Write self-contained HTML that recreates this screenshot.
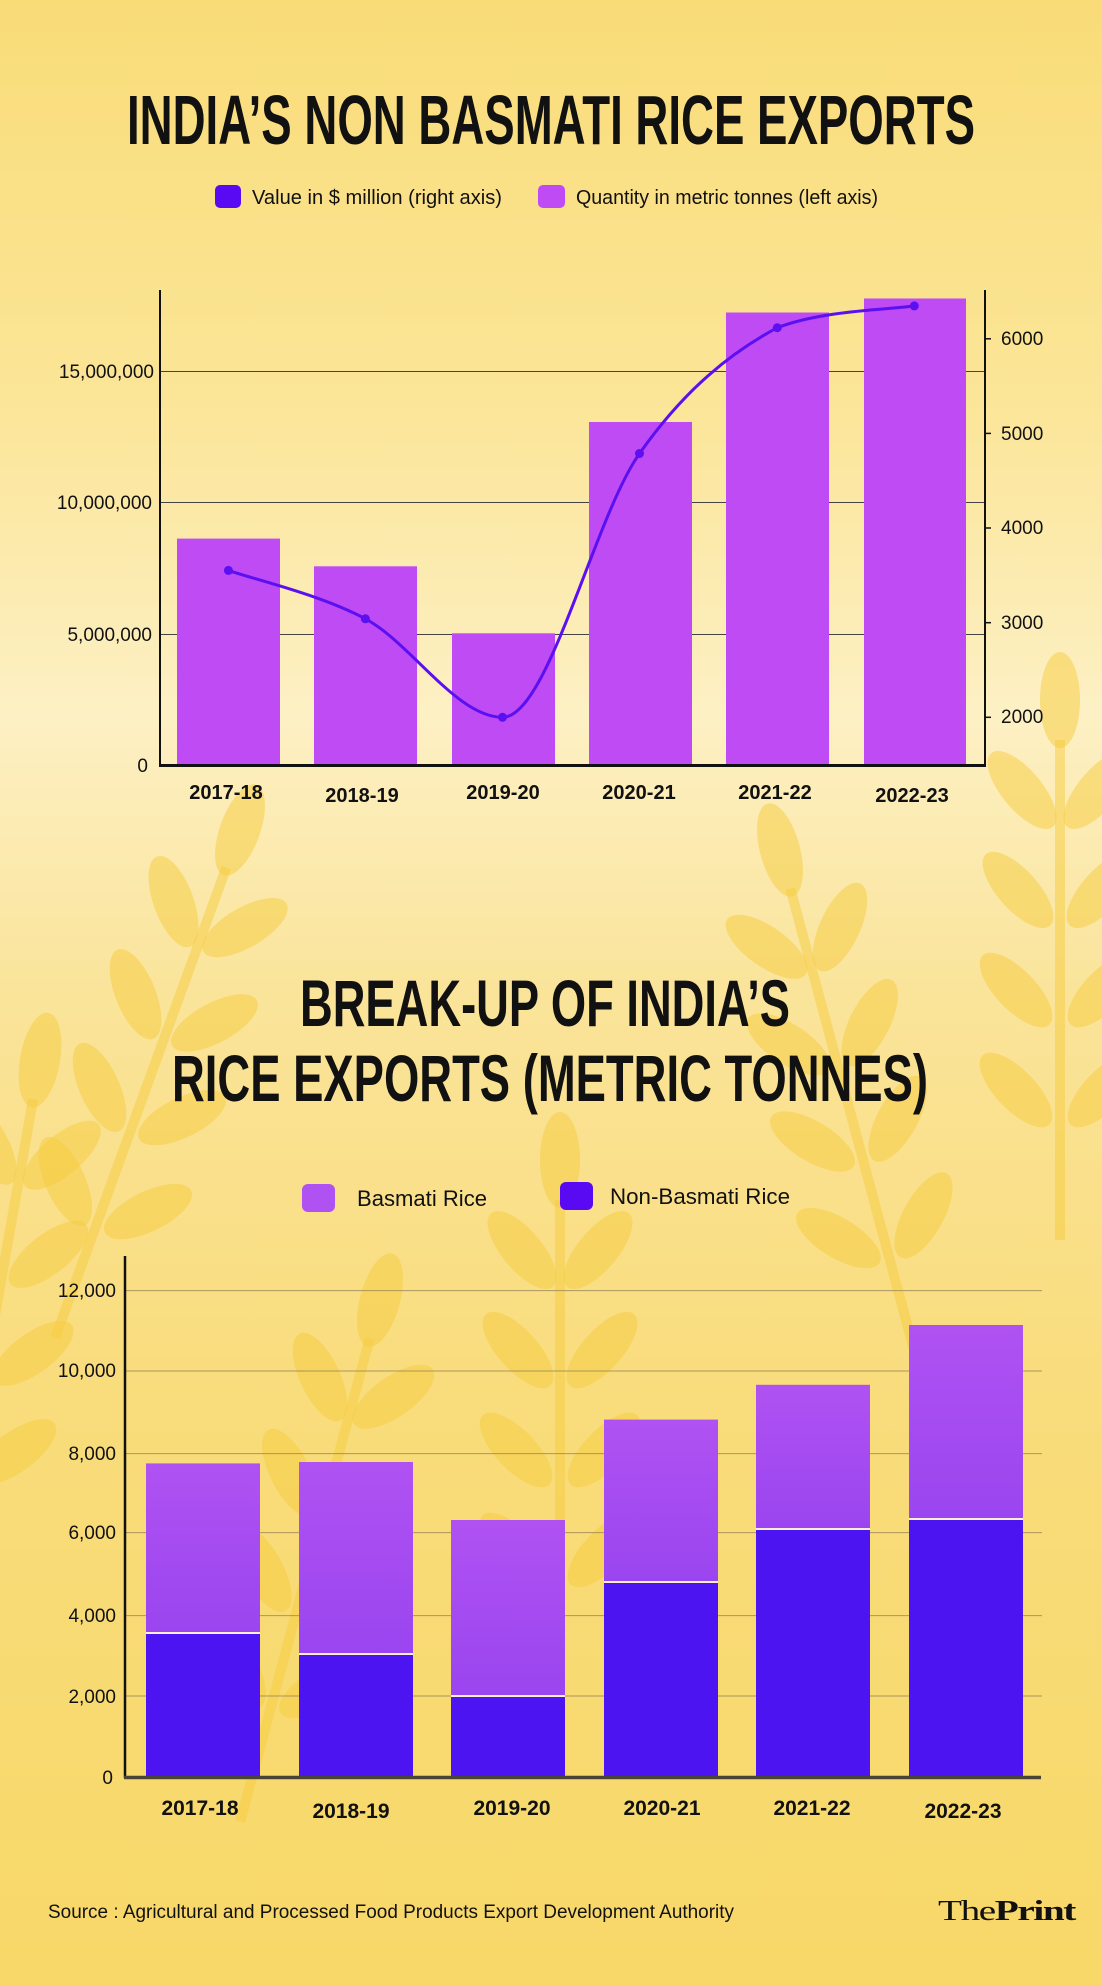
<!DOCTYPE html>
<html><head><meta charset="utf-8"><style>
html,body{margin:0;padding:0;}
body{width:1102px;height:1985px;overflow:hidden;}
svg{display:block;}
text{font-family:"Liberation Sans Narrow","Liberation Sans",sans-serif;fill:#111;}
</style></head><body>
<svg width="1102" height="1985" viewBox="0 0 1102 1985" xmlns="http://www.w3.org/2000/svg" overflow="hidden">
<defs>
<linearGradient id="bg" x1="0" y1="0" x2="0" y2="1">
<stop offset="0" stop-color="#f9dc78"/>
<stop offset="0.2" stop-color="#fbe597"/>
<stop offset="0.36" stop-color="#fdf0c4"/>
<stop offset="0.5" stop-color="#fae49a"/>
<stop offset="0.7" stop-color="#f9dc7c"/>
<stop offset="1" stop-color="#f8d868"/>
</linearGradient>
<linearGradient id="bas" x1="0" y1="0" x2="0" y2="1">
<stop offset="0" stop-color="#b052f2"/><stop offset="1" stop-color="#9a45f0"/>
</linearGradient>
<g id="grain"><ellipse cx="0" cy="0" rx="20" ry="48" fill="#f6cc3e" opacity="0.5"/></g>
<g id="head">
<use href="#grain"/>
<use href="#grain" transform="translate(-38,90) rotate(-40)"/><use href="#grain" transform="translate(38,90) rotate(40)"/>
<use href="#grain" transform="translate(-42,190) rotate(-42)"/><use href="#grain" transform="translate(42,190) rotate(42)"/>
<use href="#grain" transform="translate(-44,290) rotate(-44)"/><use href="#grain" transform="translate(44,290) rotate(44)"/>
<use href="#grain" transform="translate(-44,390) rotate(-44)"/><use href="#grain" transform="translate(44,390) rotate(44)"/>
<rect x="-5" y="40" width="10" height="500" fill="#f6cc3e" opacity="0.5"/>
</g>
</defs>
<rect width="1102" height="1985" fill="url(#bg)"/>
<use href="#head" transform="translate(1060,700)"/>
<use href="#head" transform="translate(240,830) rotate(20)"/>
<use href="#head" transform="translate(780,850) rotate(-15)"/>
<use href="#head" transform="translate(40,1060) rotate(10)"/>
<use href="#head" transform="translate(560,1160)"/>
<use href="#head" transform="translate(380,1300) rotate(15)"/>

<text x="551" y="144" text-anchor="middle" font-size="70" font-weight="bold" textLength="848" lengthAdjust="spacingAndGlyphs">INDIA’S NON BASMATI RICE EXPORTS</text>
<rect x="215" y="185" width="26" height="23" rx="5" fill="#5a0af2"/>
<text x="252" y="204" font-size="20" textLength="250" lengthAdjust="spacingAndGlyphs">Value in $ million (right axis)</text>
<rect x="538" y="185" width="27" height="23" rx="5" fill="#bf4bf5"/>
<text x="576" y="204" font-size="20" textLength="302" lengthAdjust="spacingAndGlyphs">Quantity in metric tonnes (left axis)</text>

<g stroke="#444" stroke-width="1">
<line x1="160" y1="371.5" x2="985" y2="371.5"/>
<line x1="160" y1="502.5" x2="985" y2="502.5"/>
<line x1="160" y1="634.5" x2="985" y2="634.5"/>
</g>
<g fill="#bf4bf5">
<rect x="177" y="538.6" width="103" height="226.4"/>
<rect x="314" y="566.3" width="103" height="198.7"/>
<rect x="452" y="633.3" width="103" height="131.7"/>
<rect x="589" y="422" width="103" height="343"/>
<rect x="726" y="312.5" width="103" height="452.5"/>
<rect x="864" y="298.5" width="102" height="466.5"/>
</g>
<line x1="160" y1="290" x2="160" y2="767" stroke="#111" stroke-width="2"/>
<line x1="985" y1="290" x2="985" y2="767" stroke="#111" stroke-width="2"/>
<line x1="159" y1="765.5" x2="986" y2="765.5" stroke="#111" stroke-width="3"/>
<g stroke="#111" stroke-width="1.5">
<line x1="985" y1="338.8" x2="991" y2="338.8"/><line x1="985" y1="433.4" x2="991" y2="433.4"/><line x1="985" y1="528" x2="991" y2="528"/><line x1="985" y1="622.7" x2="991" y2="622.7"/><line x1="985" y1="717.3" x2="991" y2="717.3"/>
</g>
<path d="M228.4 570.4 C251.2 578.5 319.7 594.3 365.4 618.8 C411.1 643.3 456.8 717.3 502.5 717.3 C548.2 717.3 593.7 518.5 639.5 453.5 C685.3 388.5 731.5 352.3 777.3 327.7 C823.1 310 891.5 309.5 914.3 305.9" fill="none" stroke="#5a10f0" stroke-width="3"/>
<g fill="#5a10f0">
<circle cx="228.4" cy="570.4" r="4.5"/><circle cx="365.4" cy="618.8" r="4.5"/><circle cx="502.5" cy="717.3" r="4.5"/><circle cx="639.5" cy="453.5" r="4.5"/><circle cx="777.3" cy="327.7" r="4.5"/><circle cx="914.3" cy="305.9" r="4.5"/>
</g>
<g font-size="19" text-anchor="end">
<text x="154" y="378">15,000,000</text>
<text x="152" y="509">10,000,000</text>
<text x="152" y="641">5,000,000</text>
<text x="148" y="772">0</text>
</g>
<g font-size="19">
<text x="1001" y="345">6000</text><text x="1001" y="440">5000</text><text x="1001" y="534">4000</text><text x="1001" y="629">3000</text><text x="1001" y="723">2000</text>
</g>
<g font-size="20" text-anchor="middle" font-weight="bold">
<text x="226" y="799">2017-18</text><text x="362" y="802">2018-19</text><text x="503" y="799">2019-20</text><text x="639" y="799">2020-21</text><text x="775" y="799">2021-22</text><text x="912" y="802">2022-23</text>
</g>

<text x="545" y="1026" text-anchor="middle" font-size="66" font-weight="bold" textLength="490" lengthAdjust="spacingAndGlyphs">BREAK-UP OF INDIA’S</text>
<text x="550" y="1101" text-anchor="middle" font-size="66" font-weight="bold" textLength="756" lengthAdjust="spacingAndGlyphs">RICE EXPORTS (METRIC TONNES)</text>

<rect x="302" y="1184" width="33" height="28" rx="6" fill="#b052f2"/>
<text x="357" y="1206" font-size="22" textLength="130" lengthAdjust="spacingAndGlyphs">Basmati Rice</text>
<rect x="560" y="1182" width="33" height="28" rx="6" fill="#5a0af2"/>
<text x="610" y="1204" font-size="22" textLength="180" lengthAdjust="spacingAndGlyphs">Non-Basmati Rice</text>

<g stroke="#8a7a50" stroke-width="1" opacity="0.7">
<line x1="126" y1="1290.6" x2="1042" y2="1290.6"/>
<line x1="126" y1="1371" x2="1042" y2="1371"/>
<line x1="126" y1="1453.6" x2="1042" y2="1453.6"/>
<line x1="126" y1="1532.6" x2="1042" y2="1532.6"/>
<line x1="126" y1="1615.6" x2="1042" y2="1615.6"/>
<line x1="126" y1="1696" x2="1042" y2="1696"/>
</g>
<g fill="url(#bas)">
<rect x="146" y="1463.4" width="114" height="170"/>
<rect x="299" y="1462" width="114" height="192"/>
<rect x="451" y="1520" width="114" height="176"/>
<rect x="604" y="1419.6" width="114" height="163"/>
<rect x="756" y="1384.8" width="114" height="144"/>
<rect x="909" y="1325" width="114" height="194"/>
</g>
<g fill="#4b14f0">
<rect x="146" y="1634" width="114" height="143"/>
<rect x="299" y="1655" width="114" height="122"/>
<rect x="451" y="1697" width="114" height="80"/>
<rect x="604" y="1583" width="114" height="194"/>
<rect x="756" y="1530" width="114" height="247"/>
<rect x="909" y="1520" width="114" height="257"/>
</g>
<g stroke="#fbeecb" stroke-width="2">
<line x1="146" y1="1633" x2="260" y2="1633"/><line x1="299" y1="1654" x2="413" y2="1654"/><line x1="451" y1="1696" x2="565" y2="1696"/><line x1="604" y1="1582" x2="718" y2="1582"/><line x1="756" y1="1529" x2="870" y2="1529"/><line x1="909" y1="1519" x2="1023" y2="1519"/>
</g>
<line x1="125" y1="1256" x2="125" y2="1778" stroke="#111" stroke-width="2.5"/>
<line x1="124" y1="1777.5" x2="1041" y2="1777.5" stroke="#4a4436" stroke-width="3.5"/>
<g font-size="19" text-anchor="end">
<text x="116" y="1297">12,000</text><text x="116" y="1377">10,000</text><text x="116" y="1460">8,000</text><text x="116" y="1539">6,000</text><text x="116" y="1622">4,000</text><text x="116" y="1703">2,000</text><text x="113" y="1784">0</text>
</g>
<g font-size="21" text-anchor="middle" font-weight="bold">
<text x="200" y="1815">2017-18</text><text x="351" y="1818">2018-19</text><text x="512" y="1815">2019-20</text><text x="662" y="1815">2020-21</text><text x="812" y="1815">2021-22</text><text x="963" y="1818">2022-23</text>
</g>

<text x="48" y="1918" font-size="19" textLength="686" lengthAdjust="spacingAndGlyphs">Source : Agricultural and Processed Food Products Export Development Authority</text>
<text x="938" y="1920" font-size="28" style="font-family:'Liberation Serif',serif;letter-spacing:-1px" textLength="137" lengthAdjust="spacingAndGlyphs">The<tspan font-weight="bold">Print</tspan></text>
</svg>
</body></html>
